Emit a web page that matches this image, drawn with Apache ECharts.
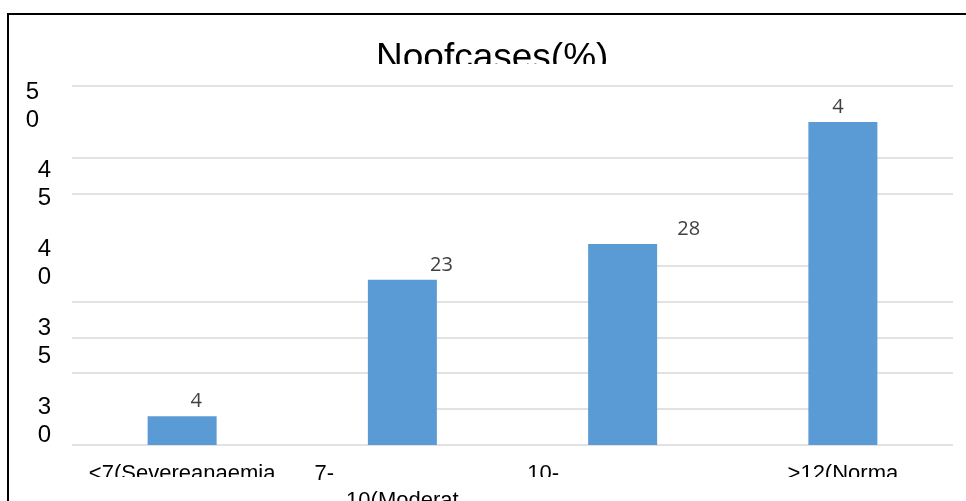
<!DOCTYPE html>
<html>
<head>
<meta charset="utf-8">
<title>Noofcases(%)</title>
<script src="https://cdn.jsdelivr.net/npm/echarts@6/dist/echarts.min.js"></script>
<style>
  html, body { margin: 0; padding: 0; background: #fff; }
  #chart { width: 966px; height: 501px; }
</style>
</head>
<body>
<div id="chart"></div>
<script>
// text exactly as it shows in the (cut off) source figure
const categories = ['<7(Severeanaemia', '7-\n10(Moderat', '10-', '>12(Norma'];
const cases = [4, 23, 28, 45];
const barLabels = ['4', '23', '28', '4'];
const yTickValues = [30, 35, 40, 45, 50];
// gridlines that are drawn across the full width
const gridValues = [0, 10, 15, 20, 35, 40, 50];
// gridlines only drawn between two categories: [from, to, value]
const partialLines = [[2, 3, 25], [1, 3, 5]];

// label nudges, layout only
const labelShift = [[14, 0], [39, 0], [66, 0], [-5, 0]];

const chart = echarts.init(document.getElementById('chart'));

const gridLine = { color: '#d9d9d9', width: 1.5, type: 'solid' };
const cut = (x, y, w, h) => ({
  type: 'rect',
  silent: true,
  z: 100,
  shape: { x: x, y: y, width: w, height: h },
  style: { fill: '#fff' }
});

const option = {
  animation: false,
  backgroundColor: '#fff',
  title: {
    text: 'Noofcases(%)',
    left: 376,
    top: 40,
    padding: 0,
    textStyle: {
      fontFamily: 'Liberation Sans',
      fontSize: 37,
      fontWeight: 'normal',
      color: '#000'
    }
  },
  grid: [
    { left: 72, right: 13, top: 86, bottom: 56, outerBoundsMode: 'none' },
    { left: 72, right: 13, top: 106, height: 315, outerBoundsMode: 'none' }
  ],
  xAxis: [
    {
      type: 'category',
      data: categories,
      axisLine: { show: false },
      axisTick: { show: false },
      axisLabel: {
        interval: 0,
        margin: 15,
        color: '#000',
        fontFamily: 'Liberation Sans',
        fontSize: 22,
        formatter: function (value, idx) {
          const lines = value.split('\n');
          if (idx === 1) return '{s1|' + lines[0] + '}\n{n|' + lines[1] + '}';
          if (idx === 2) return '{s2|' + value + '}';
          return '{n|' + value + '}';
        },
        rich: {
          n: { fontFamily: 'Liberation Sans', fontSize: 22, lineHeight: 27, color: '#000' },
          s1: { fontFamily: 'Liberation Sans', fontSize: 22, lineHeight: 27, color: '#000', padding: [0, 156, 0, 0] },
          s2: { fontFamily: 'Liberation Sans', fontSize: 22, lineHeight: 27, color: '#000', padding: [0, 159, 0, 0] }
        }
      }
    },
    { type: 'value', gridIndex: 1, show: false }
  ],
  yAxis: [
    {
      type: 'value',
      min: 0,
      max: 50,
      interval: 5,
      show: false
    },
    {
      type: 'value',
      gridIndex: 1,
      min: yTickValues[0],
      max: yTickValues[yTickValues.length - 1],
      interval: 5,
      axisLine: { show: false },
      axisTick: { show: false },
      splitLine: { show: false },
      axisLabel: {
        margin: 21,
        formatter: function (v) {
          const d = String(v).split('');
          const tag = v === 50 ? 't' : 'd';
          return d.map(c => '{' + tag + '|' + c + '}').join('\n');
        },
        rich: {
          d: { fontFamily: 'Liberation Sans', fontSize: 24, lineHeight: 28, color: '#000' },
          t: { fontFamily: 'Liberation Sans', fontSize: 24, lineHeight: 28, color: '#000', padding: [0, 12, 0, 0] }
        }
      }
    }
  ],
  series: [
    {
      type: 'bar',
      xAxisIndex: 0,
      yAxisIndex: 0,
      barWidth: 69,
      z: 2,
      itemStyle: { color: '#5b9bd5' },
      label: {
        show: true,
        position: 'top',
        distance: 5,
        color: '#404040',
        fontFamily: 'Open Sans',
        fontSize: 20,
        formatter: p => barLabels[p.dataIndex]
      },
      data: cases.map((v, i) => ({ value: v, label: { offset: labelShift[i] } })),
      markLine: {
        z: 1,
        silent: true,
        symbol: ['none', 'none'],
        label: { show: false },
        lineStyle: gridLine,
        emphasis: { disabled: true },
        data: gridValues.map(v => ({ yAxis: v })).concat(
          partialLines.map(([a, b, v]) => [{ coord: [a, v] }, { coord: [b, v] }])
        )
      }
    }
  ],
  graphic: [
    {
      type: 'rect',
      silent: true,
      z: 100,
      shape: { x: 8, y: 14, width: 1000, height: 600 },
      style: { fill: 'none', stroke: '#000', lineWidth: 2 }
    },
    // the source figure has its title and first label row cut off at the bottom
    cut(360, 64, 270, 18),
    cut(70, 477, 225, 9),
    cut(515, 477, 55, 9),
    cut(775, 477, 140, 9)
  ]
};

chart.setOption(option);
</script>
</body>
</html>
